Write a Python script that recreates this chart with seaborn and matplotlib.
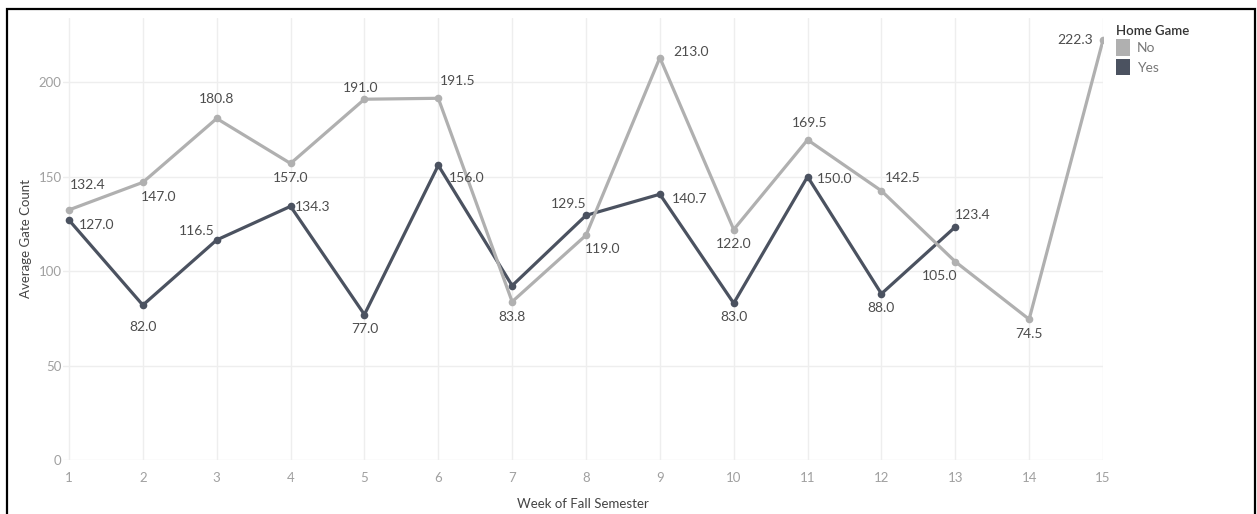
import numpy as np
import pandas as pd
import matplotlib
matplotlib.use("Agg")
import matplotlib.pyplot as plt
import seaborn as sns
from matplotlib.patches import Patch, Rectangle

# ---- data ----
weeks = list(range(1, 16))
no_values = [132.4, 147.0, 180.8, 157.0, 191.0, 191.5, 83.8, 119.0, 213.0, 122.0, 169.5, 142.5, 105.0, 74.5, 222.3]
yes_values = [127.0, 82.0, 116.5, 134.3, 77.0, 156.0, 92.3, 129.5, 140.7, 83.0, 150.0, 88.0, 123.4, np.nan, np.nan]
yes_labeled = [True, True, True, True, True, True, False, True, True, True, True, True, True, False, False]
series_names = ["No", "Yes"]
legend_title = "Home Game"
x_label = "Week of Fall Semester"
y_label = "Average Gate Count"
y_ticks = [0, 50, 100, 150, 200]

# ---- label placement (pixel offsets, ha) ----
no_offsets = [(1, -25, "left"), (16, 15, "center"), (0, -19, "center"), (0, 15, "center"),
              (-4, -11, "center"), (19, -17, "center"), (0, 15, "center"), (17, 14, "center"),
              (13, -6, "left"), (0, 14, "center"), (2, -17, "center"), (21, -13, "center"),
              (-16, 14, "center"), (0, 15, "center"), (-10, 0, "right")]
yes_offsets = [(10, 5, "left"), (0, 22, "center"), (-20, -9, "center"), (4, 1, "left"),
               (0, 14, "center"), (11, 13, "left"), (0, 0, "center"), (-17, -11, "center"),
               (12, 5, "left"), (0, 14, "center"), (9, 2, "left"), (0, 14, "center"),
               (17, -12, "center")]

df = pd.concat([
    pd.DataFrame({"week": weeks, "count": yes_values, "home": "Yes"}),
    pd.DataFrame({"week": weeks, "count": no_values, "home": "No"}),
], ignore_index=True)

sns.set_theme(style="white")
plt.rcParams["font.family"] = ["Lato", "DejaVu Sans"]

colors = {"No": "#b0b0b0", "Yes": "#4b5260"}
label_color = "#4d4d4d"
tick_color = "#a0a0a0"

fig = plt.figure(figsize=(12.57, 5.14), dpi=100)
ax = fig.add_axes([63 / 1257, 1 - 460 / 514, (1103 - 63) / 1257, (460 - 18) / 514])

sns.lineplot(data=df, x="week", y="count", hue="home", hue_order=["Yes", "No"],
             palette=colors, marker="o", markersize=5.5, markeredgewidth=0,
             linewidth=2.3, legend=False, ax=ax, sort=False)

ax.set_xlim(1 - 6 / 73.86, 15)
ax.set_ylim(0, 234)
ax.set_xticks(weeks)
ax.set_xticklabels([str(w) for w in weeks])
ax.set_yticks(y_ticks)
ax.tick_params(axis="both", length=0, labelsize=9.5, labelcolor=tick_color)
ax.tick_params(axis="x", pad=9)
ax.tick_params(axis="y", pad=1)
ax.grid(True, color="#eeeeee", linewidth=1.0)
for s in ax.spines.values():
    s.set_visible(False)
ax.set_xlabel(x_label, fontsize=9.5, color="#444444", labelpad=10)
ax.set_ylabel(y_label, fontsize=9.5, color="#444444")
ax.yaxis.set_label_coords(-0.030, 0.502)

# ---- data labels ----
for w, v, (dx, dy, ha) in zip(weeks, no_values, no_offsets):
    ax.annotate(f"{v:.1f}", (w, v), xytext=(dx * 0.72, -dy * 0.72), textcoords="offset points",
                ha=ha, va="center", fontsize=10, color=label_color)
for w, v, lab, (dx, dy, ha) in zip(weeks, yes_values, yes_labeled, yes_offsets + [(0, 0, "center")] * 2):
    if lab and not np.isnan(v):
        ax.annotate(f"{v:.1f}", (w, v), xytext=(dx * 0.72, -dy * 0.72), textcoords="offset points",
                    ha=ha, va="center", fontsize=10, color=label_color)

# ---- legend ----
handles = [Patch(facecolor=colors[n], edgecolor="none", label=n) for n in series_names]
leg = fig.legend(handles=handles, title=legend_title, loc="upper left",
                 bbox_to_anchor=(1106 / 1257, 1 - 15 / 514), frameon=False,
                 fontsize=10, title_fontsize=9.5, handlelength=1.05, handleheight=1.45,
                 handletextpad=0.45, labelspacing=0.2, alignment="left", borderaxespad=0.3)
leg.get_title().set_color("#333333")
leg.get_title().set_fontweight("semibold")
for t in leg.get_texts():
    t.set_color("#777777")

# ---- figure border ----
fig.patches.append(Rectangle((7 / 1257, -0.02), (1255 - 7) / 1257, 1.02 - 9 / 514,
                             transform=fig.transFigure, fill=False, edgecolor="black",
                             linewidth=1.6))

fig.savefig("out.png", dpi=100)
